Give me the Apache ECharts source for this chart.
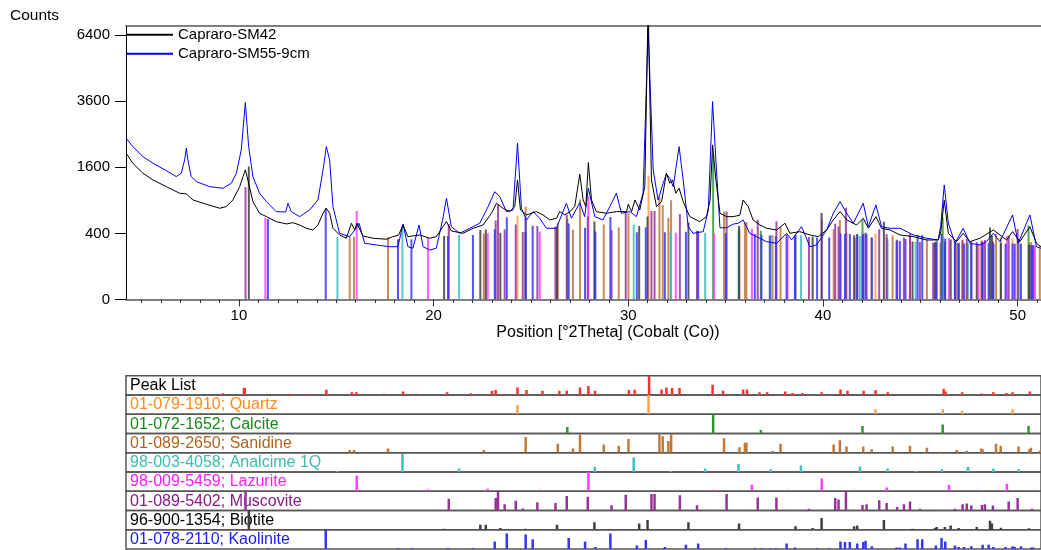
<!DOCTYPE html>
<html><head><meta charset="utf-8">
<script src="https://cdn.jsdelivr.net/npm/echarts@6/dist/echarts.min.js"></script>
<style>html,body{margin:0;padding:0;background:#fff}#c{width:1041px;height:550px}</style>
</head><body><div id="c"></div>
<script>
// ---------- data ----------
const xMajorTicks = [10, 20, 30, 40, 50];
const xMinorTicks = [5,6,7,8,9,11,12,13,14,15,16,17,18,19,21,22,23,24,25,26,27,28,29,31,32,33,34,35,36,37,38,39,41,42,43,44,45,46,47,48,49,51];
const yTickCounts = [0, 400, 1600, 3600, 6400];

// [2Theta, counts]
const sm42 = [[4.21,1957],[4.55,1699],[5.07,1458],[5.58,1308],[6.27,1165],[6.95,1033],[7.3,1019],[7.64,906],[8.32,830],[9.01,762],[9.35,789],[9.69,906],[10.04,1165],[10.21,1381],[10.33,1536],[10.46,1308],[10.72,876],[11.06,680],[11.41,628],[11.92,554],[12.44,522],[12.77,540],[13.12,508],[13.46,464],[13.8,442],[14.06,508],[14.32,680],[14.49,762],[14.66,680],[14.83,464],[15.17,381],[15.52,343],[15.78,532],[15.95,442],[16.06,532],[16.37,369],[16.89,343],[17.57,332],[17.91,361],[18.2,380],[18.43,508],[18.68,361],[19.29,381],[19.8,343],[20.14,361],[20.48,485],[20.66,555],[20.91,430],[21.51,401],[22.03,464],[22.54,508],[22.97,680],[23.23,847],[23.57,762],[23.91,706],[24.17,789],[24.31,1308],[24.46,733],[24.77,654],[25.28,706],[25.62,654],[25.97,579],[26.31,604],[26.48,706],[26.74,654],[27.0,706],[27.25,789],[27.51,1435],[27.68,906],[27.82,789],[27.95,1714],[28.11,906],[28.36,706],[28.88,680],[29.39,706],[29.91,706],[30.0,830],[30.17,706],[30.34,906],[30.59,733],[30.85,1165],[31.02,8000],[31.19,1308],[31.45,789],[31.71,876],[31.96,1458],[32.13,1236],[32.27,1308],[32.44,1033],[32.61,1132],[32.82,876],[33.16,628],[33.67,554],[34.02,628],[34.2,900],[34.33,2186],[34.5,1308],[34.71,680],[35.05,628],[35.39,628],[35.73,650],[35.9,906],[36.16,789],[36.41,579],[36.76,508],[37.1,464],[37.62,442],[38.05,532],[38.3,401],[38.81,421],[39.33,381],[39.76,361],[40.19,442],[40.53,579],[40.88,706],[41.22,579],[41.73,508],[42.07,604],[42.33,464],[42.72,628],[43.01,464],[43.44,442],[43.96,381],[44.64,361],[45.33,324],[45.92,324],[46.05,420],[46.23,900],[46.44,401],[46.86,306],[47.2,401],[47.55,306],[48.06,343],[48.75,442],[49.09,381],[49.43,324],[49.74,421],[50.11,306],[50.63,485],[50.97,289],[51.19,255]];

const sm55 = [[4.21,2379],[4.55,2138],[5.07,1867],[5.58,1699],[6.27,1519],[6.78,1381],[7.04,1458],[7.21,1782],[7.3,2093],[7.38,1782],[7.55,1381],[7.81,1271],[8.49,1165],[9.18,1132],[9.61,1236],[9.87,1458],[10.12,2047],[10.33,3546],[10.5,2138],[10.72,1381],[11.06,1033],[11.41,876],[11.92,706],[12.4,700],[12.52,847],[12.69,706],[13.12,628],[13.63,733],[14.06,906],[14.32,1536],[14.49,2138],[14.66,1782],[14.83,789],[15.17,401],[15.69,361],[15.95,442],[16.17,532],[16.46,289],[17.06,272],[17.74,255],[18.17,255],[18.43,522],[18.68,255],[18.94,240],[19.25,508],[19.46,255],[19.8,224],[20.14,240],[20.48,604],[20.66,938],[20.91,485],[21.34,401],[21.86,464],[22.37,532],[22.8,789],[23.14,1064],[23.4,968],[23.74,706],[24.08,733],[24.31,2234],[24.51,762],[24.77,579],[25.11,706],[25.45,604],[25.79,464],[26.31,464],[26.82,847],[27.08,604],[27.51,858],[27.76,628],[27.95,1132],[28.28,628],[28.7,579],[29.05,789],[29.39,1033],[29.65,680],[30.08,706],[30.42,628],[30.76,1033],[31.02,6700],[31.28,1536],[31.53,906],[31.79,1236],[31.96,1442],[32.13,1345],[32.31,1165],[32.61,2138],[32.82,1308],[33.08,485],[33.33,401],[33.85,421],[34.11,733],[34.33,3583],[34.5,1782],[34.71,470],[35.05,470],[35.39,520],[35.65,532],[35.9,579],[36.24,401],[36.59,361],[37.1,306],[37.62,289],[38.13,401],[38.39,324],[38.9,485],[39.33,255],[39.67,272],[40.19,442],[40.53,680],[40.88,876],[41.22,680],[41.56,532],[42.07,847],[42.33,485],[42.72,818],[43.01,485],[43.44,464],[43.96,464],[44.64,381],[45.33,343],[45.92,324],[46.05,500],[46.23,1200],[46.44,532],[46.78,289],[47.2,464],[47.55,289],[48.06,272],[48.4,306],[48.75,401],[49.09,306],[49.74,654],[50.03,289],[50.63,654],[50.97,255],[51.19,240]];

// reference lines: [2Theta, relative intensity %]
const peakList = [[7.17,0.3],[9.18,0.8],[10.26,14],[10.3,12],[12.6,0.3],[13.55,0.3],[14.49,7.2],[15.8,2],[16.03,2],[17.45,0.3],[18.43,3.2],[19.1,0.3],[20.69,2],[21.92,0.8],[23.0,4.6],[23.19,6.3],[24.31,15.4],[24.77,6.3],[25.59,4.6],[26.46,4.6],[26.84,4.6],[27.52,15.4],[27.95,21.6],[28.29,4.6],[30.03,6.3],[30.33,7.2],[31.07,100],[31.71,8.2],[31.96,15.4],[32.25,12.8],[32.63,12.8],[34.33,28.7],[34.87,4.6],[35.9,8.2],[36.1,8.2],[36.74,2],[37.13,2],[38.06,3.2],[38.44,1.1],[38.95,1.1],[39.93,2],[40.9,8.2],[41.26,4.6],[42.09,4.6],[42.7,6.3],[43.33,2],[46.2,10.3],[46.3,3.2],[47.15,2],[48.15,0.5],[48.75,2],[49.43,1.1],[49.74,2],[50.63,3.2]];
const quartz = [[24.31,23],[31.04,100],[42.7,6.3],[46.16,6.3],[47.15,3.2],[49.74,6.3]];
const calcite = [[26.87,11.5],[34.36,100],[36.81,3.2],[42.03,15.4],[46.15,21.6],[50.56,15.4]];
const sanidine = [[15.69,2],[15.91,2],[17.66,4.6],[22.58,2],[24.73,67.5],[26.38,21.6],[27.16,4.6],[27.52,89.6],[28.74,18.4],[29.51,12.8],[30.01,51],[31.6,100],[31.77,73.5],[32.06,36.9],[32.2,89.6],[34.92,56],[35.71,8.2],[35.99,26.8],[36.07,26.8],[37.41,0.8],[37.82,21.6],[40.55,18.4],[40.87,41.3],[41.21,10.3],[42.07,10.3],[42.5,3.2],[43.58,10.3],[44.47,12.8],[45.34,6.3],[46.04,0.3],[46.87,2],[47.38,1.1],[48.13,4.6],[48.2,3.2],[48.89,21.6],[49.13,12.8],[50.05,10.3],[50.6,3.2],[50.68,6.3],[51.14,1.1]];
const analcime = [[15.06,0.3],[18.4,86],[21.31,3.2],[28.28,7.2],[30.28,56],[32.17,0.3],[33.95,3.2],[35.66,16.9],[37.31,2],[38.87,11.5],[41.9,8.2],[43.32,3.2],[44.76,0.3],[46.11,2],[47.45,6.3],[48.75,3.2],[50.05,2]];
const lazurite = [[11.36,0.3],[16.05,67.5],[19.71,0.8],[22.78,1.6],[25.45,0.2],[27.95,100],[32.44,0.2],[34.41,0.5],[36.35,11.5],[38.18,0.3],[39.94,43.7],[41.67,0.2],[43.28,3.9],[46.47,10.3],[47.99,0.2],[49.45,15.4],[50.89,0.2]];
const muscovite = [[10.34,100],[20.78,36.9],[23.19,41.3],[23.31,100],[23.65,10.3],[24.22,25],[24.58,1.1],[25.33,18.4],[26.26,15.4],[26.84,56],[27.92,51],[29.14,7.2],[29.87,67.5],[31.19,73.5],[31.35,73.5],[32.65,62],[33.53,7.2],[35.05,73.5],[36.65,46],[37.61,46],[39.28,0.8],[40.63,41.3],[40.8,32.7],[41.18,100],[42.03,8.2],[42.24,10.3],[42.89,28.7],[43.27,15.4],[43.81,3.2],[44.16,10.3],[44.47,21.6],[44.98,0.8],[45.66,0.13],[46.78,0.8],[47.17,10.3],[47.39,12.8],[47.62,6.3],[48.17,8.2],[48.32,10.3],[48.73,6.3],[49.54,21.6],[50.0,41.3],[50.74,0.8]];
const biotite = [[10.51,100],[20.54,0.3],[22.4,6.3],[22.68,6.3],[23.43,0.8],[24.72,0.3],[26.34,6.3],[28.26,15.4],[30.56,10.3],[30.99,25],[33.09,15.4],[35.69,10.3],[38.59,3.2],[39.47,0.8],[39.93,36.9],[41.6,3.2],[41.76,4.6],[43.13,25],[44.6,0.3],[45.75,0.8],[45.84,2],[46.26,2],[46.56,4.6],[46.97,0.8],[47.9,2],[48.58,21.6],[48.68,10.3],[49.14,1.1],[50.58,0.5]];
const kaolinite = [[11.49,0.3],[14.46,100],[18.17,0.3],[18.86,0.3],[20.74,0.3],[22.02,0.13],[23.14,15.4],[23.76,64.6],[24.73,56],[25.09,25],[26.94,32.7],[27.78,15.4],[28.31,1.1],[29.08,64.6],[30.44,3.2],[30.9,21.6],[31.88,1.1],[32.96,4.6],[33.59,8.2],[35.01,0.3],[36.5,0.3],[36.84,0.13],[37.27,0.13],[37.58,0.13],[38.13,8.2],[38.56,0.5],[39.7,0.13],[40.32,0.13],[40.9,15.4],[41.13,12.8],[41.38,12.8],[41.76,8.2],[42.07,12.8],[42.19,18.4],[42.51,2],[43.78,0.5],[43.95,0.5],[44.24,8.2],[44.86,25],[45.1,25],[45.8,3.2],[46.09,32.7],[46.28,15.4],[46.78,3.2],[46.97,1.1],[47.24,1.1],[47.62,2],[48.2,4.6],[48.51,4.6],[48.75,1.1],[49.38,1.1],[49.74,2],[49.85,1.1],[50.17,2],[50.7,0.5],[50.8,0.5]];

// level (counts) from which reference sticks rise in the main plot
const stickBase = [[4.2,1800],[6,1200],[8,900],[10,780],[11.5,590],[13,500],[14.5,430],[15,360],[17,330],[19,330],[20,360],[22,380],[24,410],[26,420],[28,420],[30,400],[32,410],[34,400],[36,400],[38,360],[40,350],[42,350],[44,310],[46,290],[48,280],[50,280],[51.2,260]];
// counts added at 100 % for each phase in the main plot
const stickScale = [1000, 1500, 550, 200, 550, 420, 900, 330];

const rowLabels = ['Peak List','01-079-1910; Quartz','01-072-1652; Calcite','01-089-2650; Sanidine','98-003-4058; Analcime 1Q','98-009-5459; Lazurite','01-089-5402; Muscovite','96-900-1354; Biotite','01-078-2110; Kaolinite'];
const rowData = [peakList, quartz, calcite, sanidine, analcime, lazurite, muscovite, biotite, kaolinite];

// ---------- styles ----------
const textColors = ['#000000','#ff8c1a','#1a8a1a','#b0641e','#3cbcb0','#ff1aff','#851a85','#000000','#1a1aff'];
const barColors  = ['#ff3030','#ffa050','#2a9a2a','#c07838','#40c0c0','#ff40ff','#993399','#404040','#3535ff'];
const FONT = '"Liberation Sans", Arial, Helvetica, sans-serif';
const X_MIN = 4.2, X_MAX = 51.2, Y_MAX = 82.8;
const ROW_TOP = 375.7, ROW_H = 19.25, LEFT = 126, WIDTH = 915;

const sq = v => Math.sqrt(Math.max(0, v));
function baseAt(x) {
  for (let i = 1; i < stickBase.length; i++) {
    const [x0, y0] = stickBase[i - 1], [x1, y1] = stickBase[i];
    if (x <= x1) return y0 + (y1 - y0) * (x - x0) / (x1 - x0);
  }
  return stickBase[stickBase.length - 1][1];
}
function stickRenderer(color, w, op) {
  return function (params, api) {
    const b = api.coord([api.value(0), 0]);
    const t = api.coord([api.value(0), api.value(1)]);
    return { type: 'rect', shape: { x: b[0] - w / 2, y: t[1], width: w, height: b[1] - t[1] }, style: { fill: color, opacity: op } };
  };
}

const grids = [{ left: LEFT, top: 25.7, width: WIDTH, height: 273.8 }];
const xAxes = [
  { gridIndex: 0, type: 'value', min: X_MIN, max: X_MAX, position: 'bottom',
    axisLine: { lineStyle: { color: '#555', width: 1.5 } },
    axisTick: { customValues: xMajorTicks, length: 7, lineStyle: { color: '#333' } },
    axisLabel: { customValues: xMajorTicks, fontSize: 15, color: '#000', margin: 9, fontFamily: FONT },
    splitLine: { show: false },
    name: 'Position [°2Theta] (Cobalt (Co))', nameLocation: 'middle', nameGap: 24,
    nameTextStyle: { fontSize: 16, color: '#000', fontFamily: FONT, padding: [0, 0, 0, 49] } },
  { gridIndex: 0, type: 'value', min: X_MIN, max: X_MAX, position: 'bottom',
    axisLine: { show: false },
    axisTick: { customValues: xMinorTicks, length: 3.5, lineStyle: { color: '#333' } },
    axisLabel: { show: false }, splitLine: { show: false } },
  { gridIndex: 0, type: 'value', min: X_MIN, max: X_MAX, position: 'top',
    axisLine: { lineStyle: { color: '#555', width: 1.5 } },
    axisTick: { show: false }, axisLabel: { show: false }, splitLine: { show: false } }
];
const ySqrtTicks = yTickCounts.map(v => Math.sqrt(v));
const yAxes = [
  { gridIndex: 0, type: 'value', min: 0, max: Y_MAX,
    axisLine: { show: true, lineStyle: { color: '#000', width: 1 } },
    axisTick: { show: true, customValues: ySqrtTicks, length: 11, lineStyle: { color: '#000' } },
    axisLabel: { customValues: ySqrtTicks, formatter: v => String(Math.round(v * v)), fontSize: 15, color: '#000', margin: 16, fontFamily: FONT },
    splitLine: { show: false } }
];
rowData.forEach((d, i) => {
  grids.push({ left: LEFT, top: ROW_TOP + i * ROW_H, width: WIDTH, height: ROW_H, show: true, borderColor: '#555', borderWidth: 1.5 });
  xAxes.push({ gridIndex: i + 1, type: 'value', min: X_MIN, max: X_MAX, show: false });
  yAxes.push({ gridIndex: i + 1, type: 'value', min: 0, max: 1, show: false });
});

const series = [];
// reference sticks in the main plot
rowData.slice(1).forEach((d, k) => {
  series.push({ type: 'custom', name: rowLabels[k + 1], xAxisIndex: 0, yAxisIndex: 0, clip: true, z: 2, silent: true,
    renderItem: stickRenderer(barColors[k + 1], 2, 0.85),
    data: d.map(([p, r]) => [p, sq(baseAt(p) + stickScale[k] * r / 100)]) });
});
series.push({ type: 'line', name: 'Capraro-SM55-9cm', xAxisIndex: 0, yAxisIndex: 0, symbol: 'none', showSymbol: false, clip: true, z: 3,
  lineStyle: { color: '#0000ff', width: 1 }, itemStyle: { color: '#0000ff' }, data: sm55.map(([x, c]) => [x, sq(c)]) });
series.push({ type: 'line', name: 'Capraro-SM42', xAxisIndex: 0, yAxisIndex: 0, symbol: 'none', showSymbol: false, clip: true, z: 4,
  lineStyle: { color: '#000000', width: 1 }, itemStyle: { color: '#000000' }, data: sm42.map(([x, c]) => [x, sq(c)]) });
// bottom rows
rowData.forEach((d, i) => {
  series.push({ type: 'custom', name: 'row' + i, xAxisIndex: i + 3, yAxisIndex: i + 1, clip: true, z: 2, silent: true,
    renderItem: stickRenderer(barColors[i], 2.5, 1),
    data: d.map(([p, r]) => [p, sq(r / 100)]) });
});

const graphics = [{ type: 'text', x: 10, y: 16, style: { text: 'Counts', fill: '#000', font: '15.5px ' + FONT, verticalAlign: 'middle', textVerticalAlign: 'middle' } }];
rowLabels.forEach((t, i) => {
  graphics.push({ type: 'text', x: 130, y: ROW_TOP + (i + 0.5) * ROW_H + 0.5, z: 0,
    style: { text: t, fill: textColors[i], font: '16px ' + FONT, verticalAlign: 'middle', textVerticalAlign: 'middle' } });
});

const chart = echarts.init(document.getElementById('c'));
chart.setOption({
  animation: false,
  backgroundColor: '#ffffff',
  textStyle: { fontFamily: FONT },
  grid: grids, xAxis: xAxes, yAxis: yAxes,
  legend: { data: ['Capraro-SM42', 'Capraro-SM55-9cm'], left: LEFT, top: 27.3, orient: 'vertical', padding: 0,
    itemWidth: 46, itemHeight: 14, itemGap: 4, selectedMode: false,
    itemStyle: { opacity: 0, borderWidth: 0, color: 'rgba(0,0,0,0)' },
    textStyle: { fontSize: 15, color: '#000', fontFamily: FONT } },
  graphic: graphics,
  series: series
});
</script></body></html>
